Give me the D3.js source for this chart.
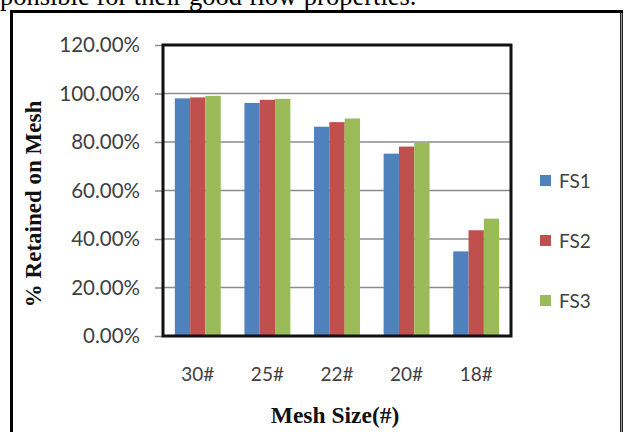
<!DOCTYPE html>
<html>
<head>
<meta charset="utf-8">
<script src="https://cdn.jsdelivr.net/npm/d3@7/dist/d3.min.js"></script>
<style>
  html, body { margin: 0; padding: 0; background: #fff; }
  svg { display: block; }
</style>
</head>
<body>
<svg id="chart" width="624" height="432"></svg>
<script>
// Sieve analysis: percentage of powder retained on each mesh
const categories = ["30#", "25#", "22#", "20#", "18#"];
const seriesNames = ["FS1", "FS2", "FS3"];
const fs1 = [98.0, 96.1, 86.3, 75.2, 34.9];
const fs2 = [98.4, 97.4, 88.2, 78.1, 43.6];
const fs3 = [99.0, 97.8, 89.7, 79.8, 48.4];
const yTicks = [0, 20, 40, 60, 80, 100, 120];
const colors = ["#4F81BD", "#C0504D", "#9BBB59"];

const series = [fs1, fs2, fs3];
const svg = d3.select("#chart");

// Caption line of the surrounding text, running off the top edge
svg.append("text")
  .attr("x", -31).attr("y", 5)
  .attr("font-family", "Liberation Serif, Times New Roman, serif")
  .attr("font-size", 26.5)
  .attr("fill", "#000")
  .text("responsible for their good flow properties.");

// Outer frame
svg.append("rect")
  .attr("x", 11.5).attr("y", 11.5)
  .attr("width", 610).attr("height", 430)
  .attr("fill", "#fff")
  .attr("stroke", "#000").attr("stroke-width", 3);
svg.append("line")
  .attr("x1", 621.5).attr("x2", 621.5).attr("y1", 13).attr("y2", 432)
  .attr("stroke", "#999").attr("stroke-width", 1.5);

const plot = { left: 163, top: 45, right: 511, bottom: 336 };

const x0 = d3.scaleBand().domain(categories)
  .range([plot.left, plot.right]).paddingInner(0.34).paddingOuter(0.17);
const x1 = d3.scaleBand().domain(seriesNames)
  .range([0, x0.bandwidth()]);
const y = d3.scaleLinear().domain([0, 120]).range([plot.bottom, plot.top]);

// Gridlines
svg.append("g")
  .selectAll("line").data(yTicks.filter(t => t > 0 && t < 120)).join("line")
  .attr("x1", plot.left).attr("x2", plot.right)
  .attr("y1", d => y(d)).attr("y2", d => y(d))
  .attr("stroke", "#8c8c8c").attr("stroke-width", 1.5);

// Y axis with percentage labels
const yAxis = d3.axisLeft(y).tickValues(yTicks)
  .tickFormat(d => d.toFixed(2) + "%").tickSize(8).tickPadding(15);
const gy = svg.append("g").attr("transform", `translate(${plot.left},0)`).call(yAxis);
gy.select(".domain").remove();
gy.selectAll(".tick line").attr("stroke", "#8c8c8c").attr("stroke-width", 1.5);
gy.selectAll(".tick text")
  .attr("font-family", "Lato, 'Open Sans', sans-serif")
  .attr("font-size", 20.5).attr("fill", "#404040");

// Bars
const groups = svg.append("g").selectAll("g").data(categories).join("g")
  .attr("transform", d => `translate(${x0(d)},0)`);
groups.selectAll("rect")
  .data((c, i) => seriesNames.map((s, j) => ({ s, v: series[j][i], j })))
  .join("rect")
  .attr("x", d => x1(d.s))
  .attr("width", x1.bandwidth())
  .attr("y", d => y(d.v))
  .attr("height", d => y(0) - y(d.v))
  .attr("fill", d => colors[d.j]);

// Plot area border
svg.append("rect")
  .attr("x", plot.left).attr("y", plot.top)
  .attr("width", plot.right - plot.left).attr("height", plot.bottom - plot.top)
  .attr("fill", "none").attr("stroke", "#111").attr("stroke-width", 3);

// X axis labels
const xAxis = d3.axisBottom(x0).tickSize(0).tickPadding(32);
const gx = svg.append("g").attr("transform", `translate(0,${plot.bottom})`).call(xAxis);
gx.select(".domain").remove();
gx.selectAll(".tick text")
  .attr("font-family", "Lato, 'Open Sans', sans-serif")
  .attr("font-size", 19).attr("fill", "#404040");

// Axis titles
svg.append("text")
  .attr("x", 335).attr("y", 423)
  .attr("text-anchor", "middle")
  .attr("font-family", "Liberation Serif, Times New Roman, serif")
  .attr("font-weight", "bold").attr("font-size", 23.5).attr("fill", "#111")
  .text("Mesh Size(#)");

svg.append("text")
  .attr("transform", "translate(41,204) rotate(-90)")
  .attr("text-anchor", "middle")
  .attr("font-family", "Liberation Serif, Times New Roman, serif")
  .attr("font-weight", "bold").attr("font-size", 23).attr("fill", "#111")
  .text("% Retained on Mesh");

// Legend
const legend = svg.append("g").selectAll("g").data(seriesNames).join("g")
  .attr("transform", (d, i) => `translate(540,${181 + i * 60})`);
legend.append("rect")
  .attr("x", 0).attr("y", -6).attr("width", 11).attr("height", 11)
  .attr("fill", (d, i) => colors[i]);
legend.append("text")
  .attr("x", 19).attr("y", 0).attr("dy", "0.35em")
  .attr("font-family", "Lato, 'Open Sans', sans-serif")
  .attr("font-size", 19).attr("fill", "#404040")
  .text(d => d);
</script>
</body>
</html>
